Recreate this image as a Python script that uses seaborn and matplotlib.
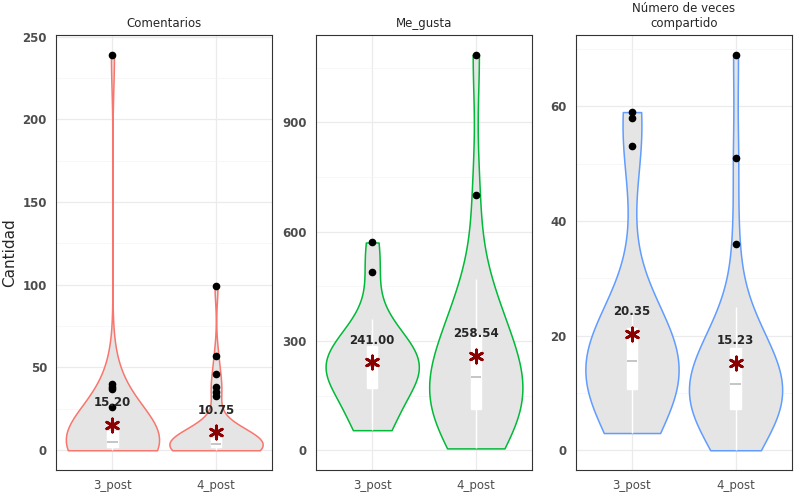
import pandas as pd
import numpy as np
import matplotlib.pyplot as plt
import matplotlib.ticker as mticker
import seaborn as sns

# Values (approximate)
comentarios_3 = [0, 0, 0, 1, 1, 1, 2, 2, 2, 2, 3, 3, 3, 3, 4, 4, 5, 5, 6, 6, 7, 8, 9, 10,
                 11, 12, 13, 14, 15, 0, 26, 37, 38, 40, 239]
comentarios_4 = [0, 0, 0, 0, 0, 1, 1, 1, 1, 1, 2, 2, 2, 2, 2, 3, 3, 3, 3, 4, 4, 4, 4,
                 5, 5, 5, 6, 6, 7, 7, 8, 9, 10, 11, 33, 35, 38, 46, 57, 99]
me_gusta_3 = [55, 60, 80, 120, 160, 175, 190, 205, 215, 225, 235, 245, 255, 270, 280,
              300, 330, 360, 490, 570]
me_gusta_4 = [5, 20, 50, 80, 100, 110, 115, 120, 130, 150, 170, 190, 210, 230, 250,
              270, 290, 310, 340, 380, 430, 470, 700, 1085]
compartido_3 = [3, 5, 8, 9, 10, 11, 12, 13, 14, 15, 16, 17, 18, 19, 21, 22, 24, 53, 58, 59]
compartido_4 = [0, 1, 3, 4, 5, 6, 7, 7, 8, 8, 9, 9, 10, 10, 11, 12, 12, 13, 14, 15, 16,
                17, 18, 19, 20, 22, 25, 36, 51, 69]

panels = ["Comentarios", "Me_gusta", "Número de veces\ncompartido"]
groups = ["3_post", "4_post"]
data_by_panel = [(comentarios_3, comentarios_4), (me_gusta_3, me_gusta_4),
                 (compartido_3, compartido_4)]
colors = ["#F8766D", "#00BA38", "#619CFF"]
tick_steps = [50, 300, 20]

rows = []
for p, (a, b) in zip(panels, data_by_panel):
    rows += [(p, "3_post", v) for v in a]
    rows += [(p, "4_post", v) for v in b]
df = pd.DataFrame(rows, columns=["panel", "group", "value"])

sns.set_style("white")
fig, axes = plt.subplots(1, 3, figsize=(8, 5), dpi=100)

for ax, p, col, step in zip(axes, panels, colors, tick_steps):
    sub = df[df["panel"] == p]
    sns.violinplot(data=sub, x="group", y="value", order=groups, cut=0, inner=None,
                   density_norm="width", color="#E5E5E5", linecolor=col, linewidth=1.1,
                   width=0.9, ax=ax)
    sns.boxplot(data=sub, x="group", y="value", order=groups, width=0.1, ax=ax,
                boxprops=dict(facecolor="white", edgecolor="white"),
                whiskerprops=dict(color="white"), capprops=dict(color="white", linewidth=0),
                medianprops=dict(color="#BBBBBB", linewidth=1.2),
                flierprops=dict(marker="o", markerfacecolor="black", markeredgecolor="black",
                                markersize=4.5))
    ymax = sub["value"].max()
    for i, g in enumerate(groups):
        m = sub[sub["group"] == g]["value"].mean()
        ax.scatter(i, m, marker=(6, 2, 0), color="#8B0000", s=90, linewidths=2, zorder=5)
        ax.text(i, m + ymax * 0.04, f"{m:.2f}", ha="center", va="bottom",
                fontsize=8.5, fontweight="bold", zorder=6)
    ax.set_title(p, fontsize=8.5)
    ax.set_xlabel("")
    ax.set_ylabel("")
    ax.yaxis.set_major_locator(mticker.MultipleLocator(step))
    ax.yaxis.set_minor_locator(mticker.MultipleLocator(step / 2))
    ax.grid(True, which="major", color="#EBEBEB", linewidth=0.9)
    ax.grid(True, which="minor", color="#F4F4F4", linewidth=0.5)
    ax.set_axisbelow(True)
    ax.set_ylim(-ymax * 0.05, ymax * 1.05)
    ax.tick_params(axis="both", labelsize=8.5, length=3, color="#333333",
                   labelcolor="#4D4D4D")
    for lab in ax.get_yticklabels():
        lab.set_fontweight("bold")
    for s in ax.spines.values():
        s.set_color("#333333")
        s.set_linewidth(0.8)

axes[0].set_ylabel("Cantidad", fontsize=11)
plt.subplots_adjust(left=0.07, right=0.99, top=0.93, bottom=0.06, wspace=0.2)
plt.savefig("out.png")
